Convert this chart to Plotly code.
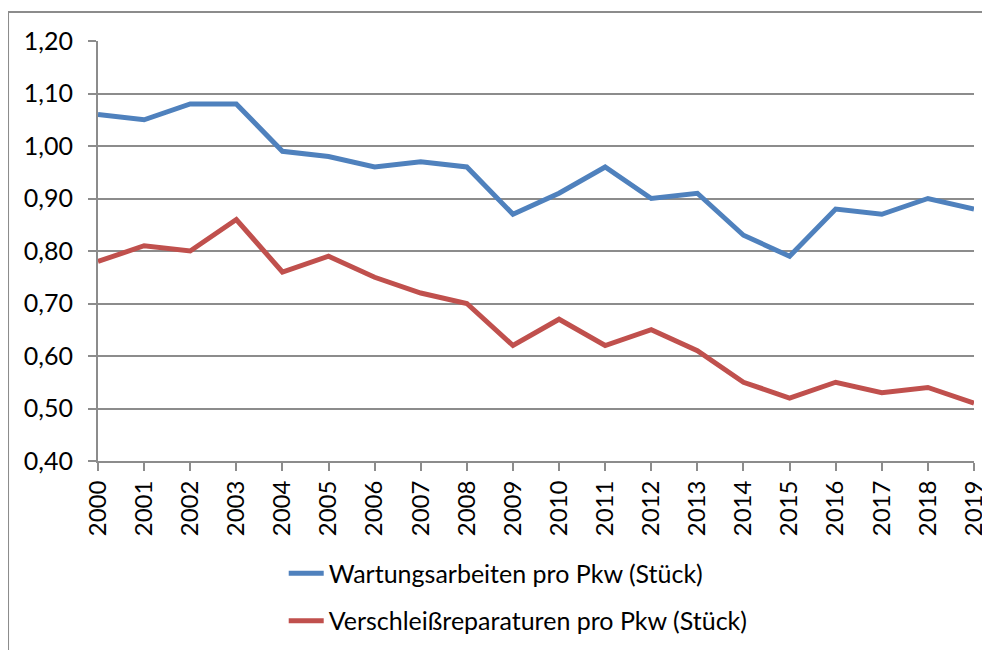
import plotly.graph_objects as go

years = [str(y) for y in range(2000, 2020)]
wartung = [1.06, 1.05, 1.08, 1.08, 0.99, 0.98, 0.96, 0.97, 0.96, 0.87,
           0.91, 0.96, 0.90, 0.91, 0.83, 0.79, 0.88, 0.87, 0.90, 0.88]
verschleiss = [0.78, 0.81, 0.80, 0.86, 0.76, 0.79, 0.75, 0.72, 0.70, 0.62,
               0.67, 0.62, 0.65, 0.61, 0.55, 0.52, 0.55, 0.53, 0.54, 0.51]
name_w = "Wartungsarbeiten pro Pkw (Stück)"
name_v = "Verschleißreparaturen pro Pkw (Stück)"

FONT = "Lato, Calibri, 'Noto Sans', sans-serif"
GRID = "#8c8c8c"

fig = go.Figure()
fig.add_trace(go.Scatter(x=years, y=wartung, mode="lines", name=name_w,
                         line=dict(color="#4F81BD", width=5), legendgroup="a"))
fig.add_trace(go.Scatter(x=years, y=verschleiss, mode="lines", name=name_v,
                         line=dict(color="#C0504D", width=5), legendgroup="b"))

fig.update_layout(
    width=990, height=650,
    margin=dict(l=90, r=24, t=33, b=197, autoexpand=False),
    paper_bgcolor="white", plot_bgcolor="white",
    separators=",.",
    font=dict(family=FONT, size=25, color="black"),
    showlegend=True,
    legend=dict(orientation="v", x=0.212, y=-0.213, xanchor="left", yanchor="top",
                font=dict(size=25), tracegroupgap=12, itemwidth=35,
                bgcolor="rgba(0,0,0,0)"),
    xaxis=dict(type="category", range=[0, 19], tickangle=-90, automargin=False,
               showgrid=False, showline=True, linecolor=GRID, linewidth=2,
               ticks="outside", ticklen=8, tickcolor=GRID, tickwidth=2,
               tickfont=dict(size=24), zeroline=False),
    yaxis=dict(range=[0.40, 1.20], dtick=0.1, tick0=0.4, tickformat=".2f",
               automargin=False, ticklabelstandoff=10,
               showgrid=True, gridcolor=GRID, gridwidth=2,
               showline=True, linecolor=GRID, linewidth=2,
               ticks="outside", ticklen=8, tickcolor=GRID, tickwidth=2,
               tickfont=dict(size=25), zeroline=False),
)

# outer chart frame (cropped at right and bottom like the reference)
fig.add_shape(type="rect", xref="paper", yref="paper",
              x0=-0.1027, x1=1.05, y0=-0.6, y1=1.069,
              line=dict(color="#8c8c8c", width=2), layer="below")

fig.write_html("out.html")
